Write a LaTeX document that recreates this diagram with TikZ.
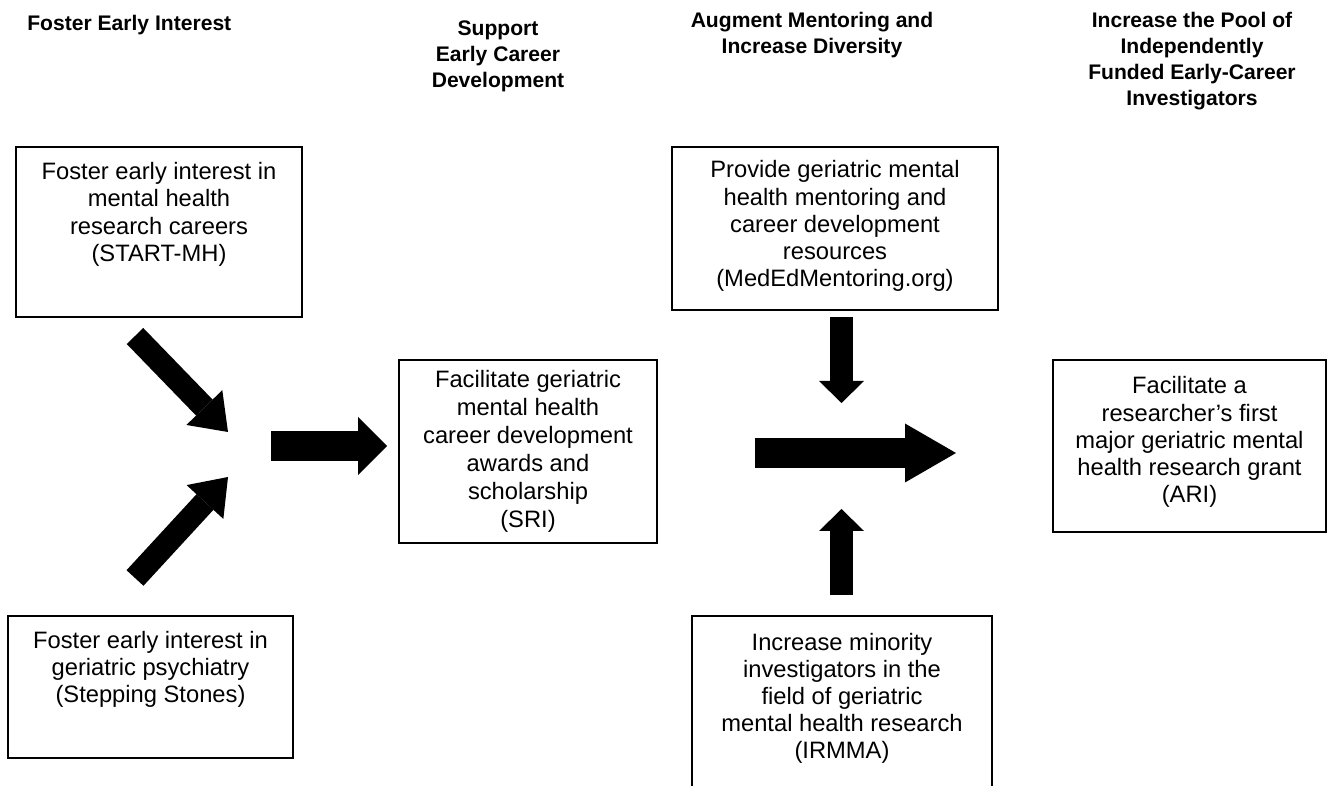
\documentclass[tikz,border=0pt]{standalone}
\usepackage{fontspec}
\setmainfont{Liberation Sans}
\usetikzlibrary{arrows.meta}
\newcommand{\boxfont}{\fontsize{13.5}{15.5}\selectfont}
\newcommand{\headfont}{\bfseries\fontsize{12}{14.8}\selectfont}

\begin{document}
\begin{tikzpicture}[
  box/.style={draw,line width=1.1pt,align=center,font=\boxfont,inner sep=0pt},
  head/.style={align=center,font=\headfont,inner sep=0pt},
  diagarrow/.style={line width=0.46cm,-{Triangle[length=0.68cm,width=1.0cm,line width=0pt]}},
  vertarrow/.style={line width=0.46cm,-{Triangle[length=0.44cm,width=0.9cm,line width=0pt]}},
  smallarrow/.style={line width=0.6cm,-{Triangle[length=0.58cm,width=1.16cm,line width=0pt]}},
  bigarrow/.style={line width=0.6cm,-{Triangle[length=1.02cm,width=1.18cm,line width=0pt]}}]
\path[use as bounding box,clip] (0,0) rectangle (26.62,15.70);
% column headings
\node[head,anchor=north west] (hinterest) at (0.54,15.41) {Foster Early Interest};
\node[head,anchor=north] (hsupport) at (9.96,15.30) {Support\\Early Career\\Development};
\node[head,anchor=north] (hmentor) at (16.24,15.47) {Augment Mentoring and\\Increase Diversity};
\node[head,anchor=north] (hpool) at (23.84,15.47) {Increase the Pool of\\Independently\\Funded Early-Career\\Investigators};
% programs
\node[box,minimum width=5.72cm,minimum height=3.40cm] (startmh) at (3.18,11.06) {Foster early interest in\\mental health\\research careers\\(START-MH)\\[0.26cm]};
\node[box,minimum width=5.70cm,minimum height=2.84cm] (stepping) at (3.01,1.96) {Foster early interest in\\geriatric psychiatry\\(Stepping Stones)\\[0.26cm]};
\node[box,minimum width=5.16cm,minimum height=3.66cm,font=\fontsize{13.5}{16}\selectfont] (sri) at (10.56,6.67) {Facilitate geriatric\\mental health\\career development\\awards and\\scholarship\\(SRI)};
\node[box,minimum width=6.52cm,minimum height=3.26cm] (meded) at (16.70,11.13) {Provide geriatric mental\\health mentoring and\\career development\\resources\\(MedEdMentoring.org)\\[-0.36cm]};
\node[box,minimum width=6.00cm,minimum height=3.78cm] (irmma) at (16.84,1.49) {Increase minority\\investigators in the\\field of geriatric\\mental health research\\(IRMMA)\\[0.04cm]};
\node[box,minimum width=5.46cm,minimum height=3.44cm] (ari) at (23.79,6.78) {Facilitate a\\researcher’s first\\major geriatric mental\\health research grant\\(ARI)\\[-0.30cm]};
% arrow ends
\coordinate (d1a) at (2.70,8.98); \coordinate (d1b) at (4.56,7.06);
\coordinate (d2a) at (2.70,4.14); \coordinate (d2b) at (4.56,6.16);
\coordinate (h1a) at (5.42,6.78); \coordinate (h1b) at (7.74,6.78);
\coordinate (h2a) at (15.10,6.64); \coordinate (h2b) at (19.12,6.64);
\coordinate (v1a) at (16.83,9.36); \coordinate (v1b) at (16.83,7.64);
\coordinate (v2a) at (16.83,3.80); \coordinate (v2b) at (16.83,5.52);
% arrows
\draw[diagarrow] (d1a) -- (d1b);
\draw[diagarrow] (d2a) -- (d2b);
\draw[smallarrow] (h1a) -- (h1b);
\draw[vertarrow] (v1a) -- (v1b);
\draw[vertarrow] (v2a) -- (v2b);
\draw[bigarrow] (h2a) -- (h2b);
\end{tikzpicture}
\end{document}
